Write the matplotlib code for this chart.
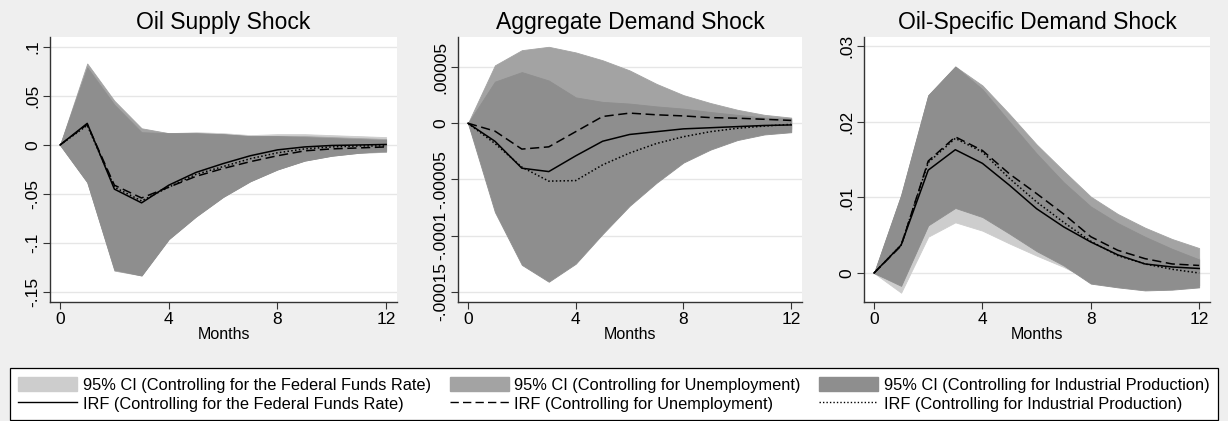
import numpy as np
import matplotlib
matplotlib.use("Agg")
import matplotlib.pyplot as plt
from matplotlib.patches import Patch
from matplotlib.lines import Line2D
from matplotlib.ticker import FixedLocator

plt.rcParams['font.family'] = ['Liberation Sans', 'DejaVu Sans']

months = np.arange(13)

# Oil supply shock
os_irf_ffr = [0, 0.022, -0.045, -0.059, -0.041, -0.028, -0.019, -0.011, -0.005, -0.002, -0.0005, 0.0, 0.0005]
os_irf_un = [0, 0.021, -0.041, -0.054, -0.043, -0.032, -0.024, -0.017, -0.011, -0.006, -0.004, -0.003, -0.002]
os_irf_ip = [0, 0.020, -0.043, -0.057, -0.043, -0.030, -0.022, -0.014, -0.008, -0.004, -0.002, -0.001, -0.001]
os_ffr_hi = [0, 0.080, 0.043, 0.016, 0.012, 0.013, 0.012, 0.010, 0.011, 0.011, 0.010, 0.009, 0.008]
os_ffr_lo = [0, -0.037, -0.127, -0.132, -0.095, -0.072, -0.052, -0.036, -0.024, -0.015, -0.010, -0.007, -0.006]
os_un_hi = [0, 0.083, 0.045, 0.017, 0.012, 0.012, 0.011, 0.009, 0.009, 0.009, 0.008, 0.007, 0.006]
os_un_lo = [0, -0.038, -0.128, -0.133, -0.096, -0.073, -0.053, -0.037, -0.025, -0.016, -0.011, -0.008, -0.007]
os_ip_hi = [0, 0.079, 0.041, 0.013, 0.012, 0.012, 0.011, 0.009, 0.009, 0.008, 0.007, 0.006, 0.005]
os_ip_lo = [0, -0.038, -0.127, -0.133, -0.096, -0.073, -0.053, -0.037, -0.025, -0.016, -0.011, -0.008, -0.006]

# Aggregate demand shock (values in 1e-5)
ad_irf_ffr = [0, -1.6, -4.0, -4.3, -2.9, -1.6, -1.0, -0.75, -0.5, -0.4, -0.3, -0.2, -0.15]
ad_irf_un = [0, -0.7, -2.3, -2.1, -0.75, 0.6, 0.9, 0.75, 0.65, 0.5, 0.45, 0.35, 0.25]
ad_irf_ip = [0, -1.8, -3.9, -5.15, -5.1, -3.7, -2.65, -1.8, -1.2, -0.75, -0.45, -0.25, -0.1]
ad_ffr_hi = [0, 3.0, 3.5, 3.0, 1.8, 1.5, 1.3, 1.1, 0.9, 0.7, 0.5, 0.4, 0.3]
ad_ffr_lo = [0, -7.0, -11.5, -12.5, -11.0, -8.5, -6.5, -4.6, -3.0, -2.0, -1.3, -0.9, -0.7]
ad_un_hi = [0, 5.15, 6.5, 6.8, 6.3, 5.6, 4.7, 3.5, 2.5, 1.8, 1.2, 0.75, 0.5]
ad_un_lo = [0, -6.5, -10.5, -11.0, -9.5, -7.0, -5.0, -3.5, -2.3, -1.5, -1.0, -0.7, -0.5]
ad_ip_hi = [0, 3.7, 4.55, 3.8, 2.3, 1.9, 1.75, 1.5, 1.3, 1.0, 0.75, 0.5, 0.4]
ad_ip_lo = [0, -7.9, -12.6, -14.1, -12.5, -9.85, -7.35, -5.3, -3.5, -2.35, -1.5, -1.0, -0.8]

# Oil-specific demand shock
osd_irf_ffr = [0, 0.0037, 0.0136, 0.0163, 0.0145, 0.0116, 0.0085, 0.0061, 0.0041, 0.0024, 0.0012, 0.0008, 0.0006]
osd_irf_un = [0, 0.0036, 0.0148, 0.0180, 0.0162, 0.0131, 0.0105, 0.0078, 0.0048, 0.0030, 0.0019, 0.0012, 0.0010]
osd_irf_ip = [0, 0.0037, 0.0146, 0.0178, 0.0160, 0.0125, 0.0094, 0.0067, 0.0042, 0.0023, 0.0012, 0.0005, 0.0]
osd_ffr_hi = [0, 0.0095, 0.0225, 0.0262, 0.0235, 0.0192, 0.0150, 0.0113, 0.0082, 0.0060, 0.0043, 0.0030, 0.0020]
osd_ffr_lo = [0, -0.0026, 0.0048, 0.0067, 0.0056, 0.0039, 0.0023, 0.0008, -0.0010, -0.0016, -0.0019, -0.0019, -0.0017]
osd_un_hi = [0, 0.0103, 0.0235, 0.0273, 0.0248, 0.0210, 0.0170, 0.0135, 0.0101, 0.0078, 0.0060, 0.0045, 0.0033]
osd_un_lo = [0, -0.0015, 0.0065, 0.0088, 0.0076, 0.0055, 0.0032, 0.0013, -0.0011, -0.0016, -0.0020, -0.0019, -0.0016]
osd_ip_hi = [0, 0.0103, 0.0235, 0.0273, 0.0243, 0.0200, 0.0158, 0.0120, 0.0088, 0.0066, 0.0048, 0.0032, 0.0018]
osd_ip_lo = [0, -0.0017, 0.0063, 0.0086, 0.0074, 0.0052, 0.0029, 0.0010, -0.0014, -0.0019, -0.0023, -0.0022, -0.0019]

titles = ["Oil Supply Shock", "Aggregate Demand Shock", "Oil-Specific Demand Shock"]
legend_labels = ["the Federal Funds Rate", "Unemployment", "Industrial Production"]

band_colors = ["#cdcdcd", "#a3a3a3", "#8e8e8e"]
line_styles = ["-", (0, (6, 3)), (0, (1, 1.5))]

panels = [
    dict(irf=[os_irf_ffr, os_irf_un, os_irf_ip],
         hi=[os_ffr_hi, os_un_hi, os_ip_hi], lo=[os_ffr_lo, os_un_lo, os_ip_lo],
         scale=1.0, ylim=(-0.160, 0.110),
         ticks=[-0.15, -0.1, -0.05, 0, 0.05, 0.1],
         ticklabels=["-.15", "-.1", "-.05", "0", ".05", ".1"],
         pos=[50 / 1228, 1 - 302 / 421, 347 / 1228, 265 / 421]),
    dict(irf=[ad_irf_ffr, ad_irf_un, ad_irf_ip],
         hi=[ad_ffr_hi, ad_un_hi, ad_ip_hi], lo=[ad_ffr_lo, ad_un_lo, ad_ip_lo],
         scale=1e-5, ylim=(-0.000159, 0.0000767),
         ticks=[-0.00015, -0.0001, -0.00005, 0, 0.00005],
         ticklabels=["-.00015", "-.0001", "-.00005", "0", ".00005"],
         pos=[458 / 1228, 1 - 302 / 421, 344 / 1228, 265 / 421]),
    dict(irf=[osd_irf_ffr, osd_irf_un, osd_irf_ip],
         hi=[osd_ffr_hi, osd_un_hi, osd_ip_hi], lo=[osd_ffr_lo, osd_un_lo, osd_ip_lo],
         scale=1.0, ylim=(-0.00383, 0.0312),
         ticks=[0, 0.01, 0.02, 0.03],
         ticklabels=["0", ".01", ".02", ".03"],
         pos=[864 / 1228, 1 - 302 / 421, 346 / 1228, 265 / 421]),
]

fig = plt.figure(figsize=(12.28, 4.21), dpi=100)
fig.patch.set_facecolor("#efefef")

for title, p in zip(titles, panels):
    ax = fig.add_axes(p["pos"])
    ax.set_facecolor("white")
    s = p["scale"]
    for k in range(3):
        ax.fill_between(months, np.array(p["lo"][k]) * s, np.array(p["hi"][k]) * s,
                        color=band_colors[k], linewidth=0.6, edgecolor=band_colors[k], zorder=2 + k)
    for k in range(3):
        ax.plot(months, np.array(p["irf"][k]) * s, color="black", linestyle=line_styles[k],
                linewidth=1.1, zorder=6)
    ax.set_xlim(-0.37, 12.4)
    ax.set_ylim(*p["ylim"])
    ax.xaxis.set_major_locator(FixedLocator([0, 4, 8, 12]))
    ax.yaxis.set_major_locator(FixedLocator(p["ticks"]))
    ax.set_yticklabels(p["ticklabels"], rotation=90, va="center")
    ax.grid(axis="y", color="#e6e6e6", linewidth=1.0, zorder=0)
    ax.set_axisbelow(True)
    for side in ["top", "right"]:
        ax.spines[side].set_visible(False)
    for side in ["left", "bottom"]:
        ax.spines[side].set_color("#333333")
        ax.spines[side].set_linewidth(1.0)
    ax.tick_params(axis="both", labelsize=12.5, length=5, color="#333333", pad=2)
    ax.set_xlabel("Months", fontsize=11.5, labelpad=0)
    ax.set_title(title, fontsize=16.5, pad=6)

handles = []
for k in range(3):
    handles.append(Patch(facecolor=band_colors[k], edgecolor=band_colors[k],
                         label="95% CI (Controlling for " + legend_labels[k] + ")"))
    handles.append(Line2D([], [], color="black", linestyle=line_styles[k], linewidth=1.0,
                          label="IRF (Controlling for " + legend_labels[k] + ")"))

leg = fig.legend(handles=handles, ncol=3, loc="lower left",
                 bbox_to_anchor=(10 / 1228, 1 / 421, 1208 / 1228, 52 / 421),
                 mode="expand", fontsize=11.8, frameon=True, fancybox=False,
                 edgecolor="black", facecolor="white", framealpha=1,
                 handlelength=3.6, handleheight=1.0, handletextpad=0.35,
                 labelspacing=0.2, borderpad=0.5, borderaxespad=0)
leg.get_frame().set_linewidth(0.9)

fig.savefig("out.png", dpi=100, facecolor=fig.get_facecolor())
